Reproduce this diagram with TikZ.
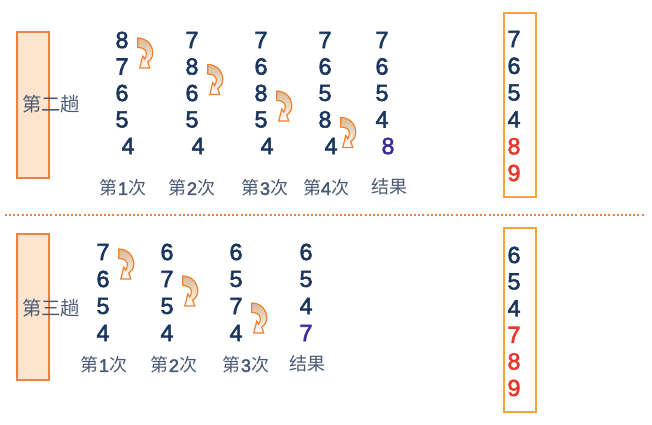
\documentclass[tikz,border=0pt]{standalone}
\usepackage{fontspec}
\setmainfont{Liberation Sans}
\newfontfamily\numfont{Liberation Sans}[FakeBold=2.5]
\newfontfamily\cjk{Noto Sans CJK SC}
\usetikzlibrary{calc}

\definecolor{navy}{HTML}{1B365D}
\definecolor{sortedpurple}{HTML}{3A2E96}
\definecolor{donered}{HTML}{E8372C}
\definecolor{labelgray}{HTML}{4A5A74}
\definecolor{passfill}{HTML}{FCE4CE}
\definecolor{passdraw}{HTML}{F08040}
\definecolor{resdraw}{HTML}{F5A33A}
\definecolor{swaptan}{HTML}{D6B994}
\definecolor{swapdraw}{HTML}{F07F2F}

\newcommand{\ordlabel}[1]{{\cjk 第}{\numfont #1}{\cjk 次}}

\begin{document}
\begin{tikzpicture}[
    x=0.75pt, y=-0.75pt,
    num/.style={font=\numfont\fontsize{17.5}{17.5}\selectfont, text=navy, inner sep=0pt},
    lab/.style={font=\fontsize{13.5}{13.5}\selectfont, text=labelgray, inner sep=0pt},
    passlab/.style={font=\cjk\fontsize{14.5}{14.5}\selectfont, text=labelgray, inner sep=0pt},
    passbox/.style={fill=passfill, draw=passdraw, line width=1.2pt},
    resbox/.style={draw=resdraw, line width=1.5pt},
    swapfill/.style={draw=swapdraw, line width=0.9pt, top color=swaptan, bottom color=white},
    swap/.pic={
      \path[swapfill] (0,0) .. controls (9,0) and (15,7) .. (15,15)
        .. controls (15,19) and (13,22) .. (10,24) -- (12,30) -- (2,30)
        -- (5,18) -- (7,21) .. controls (8,19) and (9,17) .. (8.5,14.5)
        .. controls (8,11.5) and (5,9.5) .. (0,9.5) -- cycle;
    }
  ]

  \path[use as bounding box] (0,0) rectangle (652,424);

  % Row anchors
  \def\yTop{40}
  \def\yBot{252}
  \def\stepTop{26.5}
  \def\stepBot{27}

  % =====================================================
  % PASS 2
  % =====================================================
  \draw[passbox] (17,32) rectangle (49,178);
  \node[passlab] (pass2) at (51,104) {第二趟};

  \foreach \c/\x/\a/\b/\cc/\d/\e in {1/122/8/7/6/5/4,2/192/7/8/6/5/4,
                                     3/261/7/6/8/5/4,4/325/7/6/5/8/4}{
    \node[num] (t\c-1) at (\x,\yTop) {\a};
    \node[num] (t\c-2) at (\x,\yTop+\stepTop) {\b};
    \node[num] (t\c-3) at (\x,\yTop+2*\stepTop) {\cc};
    \node[num] (t\c-4) at (\x,\yTop+3*\stepTop) {\d};
    \node[num] (t\c-5) at (\x+6,\yTop+4*\stepTop) {\e};
  }
  \foreach \r/\v in {1/7,2/6,3/5,4/4}{
    \node[num] (t5-\r) at (382,\yTop+\r*\stepTop-\stepTop) {\v};
  }
  \node[num, text=sortedpurple] (t5-5) at (388,\yTop+4*\stepTop) {8};

  % swaps
  \foreach \c in {1,2,3,4}{
    \pic at ($(t\c-\c.east)+(9,-2)$) {swap};
  }

  % labels
  \foreach \c/\x in {1/123,2/192,3/265,4/326}{
    \node[lab] (tl\c) at (\x,188) {\ordlabel{\c}};
  }
  \node[lab, font=\cjk\fontsize{13.5}{13.5}\selectfont] (tl5) at (389,187) {结果};

  % result
  \draw[resbox] (504,13) rectangle (536,197);
  \foreach \r/\v/\col in {0/7/navy,1/6/navy,2/5/navy,3/4/navy,4/8/donered,5/9/donered}{
    \node[num, text=\col] (tr\r) at (514,39+26.8*\r) {\v};
  }

  % =====================================================
  % SEPARATOR
  % =====================================================
  \draw[passdraw, line width=1.5pt, dash pattern=on 1.5pt off 1.6pt] (5,215) -- (645,215);

  % =====================================================
  % PASS 3
  % =====================================================
  \draw[passbox] (17,234) rectangle (49,380);
  \node[passlab] (pass3) at (51,308) {第三趟};

  \foreach \c/\x/\a/\b/\cc/\d in {1/103/7/6/5/4,2/167/6/7/5/4,3/236/6/5/7/4}{
    \node[num] (b\c-1) at (\x,\yBot) {\a};
    \node[num] (b\c-2) at (\x,\yBot+\stepBot) {\b};
    \node[num] (b\c-3) at (\x,\yBot+2*\stepBot) {\cc};
    \node[num] (b\c-4) at (\x,\yBot+3*\stepBot) {\d};
  }
  \foreach \r/\v in {1/6,2/5,3/4}{
    \node[num] (b4-\r) at (306,\yBot+\r*\stepBot-\stepBot) {\v};
  }
  \node[num, text=sortedpurple] (b4-4) at (306,\yBot+3*\stepBot) {7};

  % swaps
  \foreach \c in {1,2,3}{
    \pic at ($(b\c-\c.east)+(9,-3)$) {swap};
  }

  % labels
  \foreach \c/\x in {1/104,2/174,3/246}{
    \node[lab] (bl\c) at (\x,365) {\ordlabel{\c}};
  }
  \node[lab, font=\cjk\fontsize{13.5}{13.5}\selectfont] (bl4) at (307,364) {结果};

  % result
  \draw[resbox] (504,228) rectangle (536,412);
  \foreach \r/\v/\col in {0/6/navy,1/5/navy,2/4/navy,3/7/donered,4/8/donered,5/9/donered}{
    \node[num, text=\col] (br\r) at (514,255+26.6*\r) {\v};
  }

\end{tikzpicture}
\end{document}
